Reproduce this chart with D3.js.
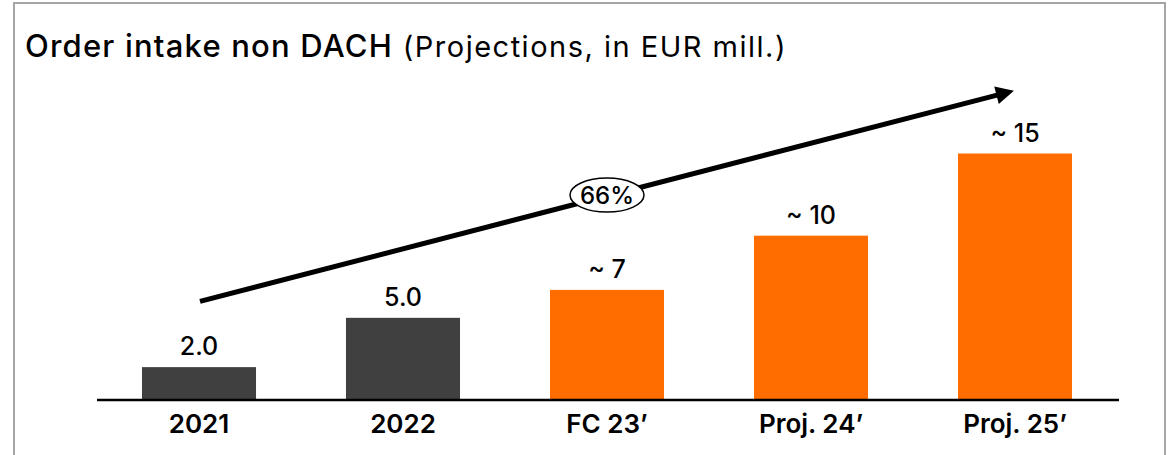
<!DOCTYPE html>
<html>
<head>
<meta charset="utf-8">
<script src="https://cdn.jsdelivr.net/npm/d3@7"></script>
<style>
  body { margin: 0; background: #fff; }
  svg { display: block; font-family: Inter, "Open Sans", sans-serif; }
</style>
</head>
<body>
<script>
// chart data
var categories = ["2021", "2022", "FC 23\u2019", "Proj. 24\u2019", "Proj. 25\u2019"];
var values = [2.0, 5.0, 6.7, 10, 15];
var valueLabels = ["2.0", "5.0", "~ 7", "~ 10", "~ 15"];
var isProjection = [false, false, true, true, true];
var growthLabel = "66%";

var width = 1169, height = 455;

var svg = d3.select("body").append("svg")
    .attr("width", width)
    .attr("height", height);

// frame
svg.append("rect")
    .attr("x", 14).attr("y", 3)
    .attr("width", 1151).attr("height", 470)
    .attr("fill", "none")
    .attr("stroke", "#a6a6a6")
    .attr("stroke-width", 2);

// title
var title = svg.append("text")
    .attr("x", 25).attr("y", 57)
    .attr("fill", "#000");
title.append("tspan")
    .attr("font-size", 31)
    .attr("font-weight", 500)
    .attr("letter-spacing", 1.2)
    .text("Order intake non DACH");
title.append("tspan")
    .attr("font-size", 29)
    .attr("font-weight", 400)
    .attr("letter-spacing", 1.5)
    .text(" (Projections, in EUR mill.)");

var x = d3.scaleBand()
    .domain(categories)
    .range([97, 1117])
    .paddingInner(0.441)
    .paddingOuter(0.2205);

var y = d3.scaleLinear()
    .domain([0, 15])
    .range([400, 153.5]);

var data = categories.map(function(c, i) {
    return { cat: c, value: values[i], label: valueLabels[i], proj: isProjection[i] };
});

svg.selectAll("rect.bar")
    .data(data)
    .enter()
    .append("rect")
    .attr("class", "bar")
    .attr("x", function(d) { return x(d.cat); })
    .attr("y", function(d) { return y(d.value); })
    .attr("width", x.bandwidth())
    .attr("height", function(d) { return y(0) - y(d.value); })
    .attr("fill", function(d) { return d.proj ? "#ff6d00" : "#404040"; });

svg.selectAll("text.val")
    .data(data)
    .enter()
    .append("text")
    .attr("class", "val")
    .attr("x", function(d) { return x(d.cat) + x.bandwidth() / 2; })
    .attr("y", function(d) { return y(d.value) - 12; })
    .attr("text-anchor", "middle")
    .attr("font-size", 25)
    .attr("font-weight", 500)
    .attr("fill", "#000")
    .text(function(d) { return d.label; });

// axis baseline + category labels
var xAxis = svg.append("g")
    .attr("transform", "translate(0," + y(0) + ")")
    .call(d3.axisBottom(x).tickSize(0).tickPadding(15).tickSizeOuter(0));
xAxis.select(".domain")
    .attr("d", "M97,0H1119")
    .attr("stroke", "#000")
    .attr("stroke-width", 2.5);
xAxis.selectAll("text")
    .attr("font-size", 26)
    .attr("font-weight", 600)
    .attr("font-family", "Inter, sans-serif")
    .attr("fill", "#000");

// growth arrow
var defs = svg.append("defs");
defs.append("marker")
    .attr("id", "head")
    .attr("viewBox", "0 0 10 10")
    .attr("refX", 2).attr("refY", 5)
    .attr("markerWidth", 4.2).attr("markerHeight", 3.6)
    .attr("orient", "auto")
    .append("path")
    .attr("d", "M0,0L10,5L0,10Z")
    .attr("fill", "#000");

var x0 = x(categories[0]) + x.bandwidth() / 2 + 1;
var x1 = x(categories[4]) + x.bandwidth() / 2 - 15;
var y0 = y(6.0), y1 = y(18.6);
svg.append("line")
    .attr("x1", x0).attr("y1", y0)
    .attr("x2", x1).attr("y2", y1)
    .attr("stroke", "#000")
    .attr("stroke-width", 5)
    .attr("marker-end", "url(#head)");

var cx = x(categories[2]) + x.bandwidth() / 2;
var cy = y0 + (y1 - y0) * (cx - x0) / (x1 - x0) - 1;
svg.append("ellipse")
    .attr("cx", cx).attr("cy", cy)
    .attr("rx", 37).attr("ry", 17)
    .attr("fill", "#fff")
    .attr("stroke", "#000")
    .attr("stroke-width", 1.5);
svg.append("text")
    .attr("x", cx).attr("y", cy + 8.5)
    .attr("text-anchor", "middle")
    .attr("font-size", 24)
    .attr("font-weight", 500)
    .attr("fill", "#000")
    .text(growthLabel);
</script>
</body>
</html>
